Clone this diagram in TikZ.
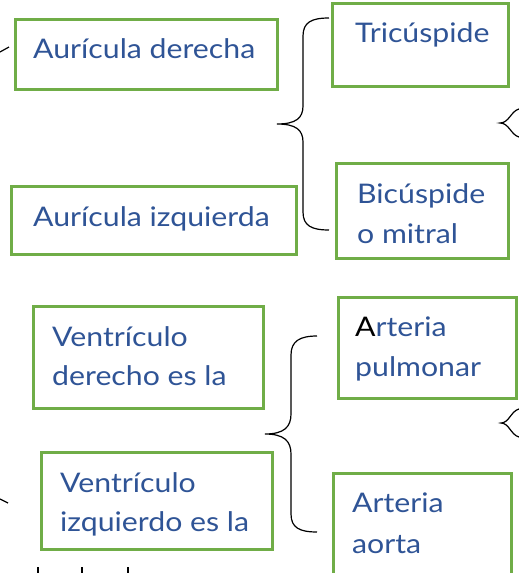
\documentclass[tikz,border=0pt]{standalone}
\usepackage{fontspec}
\setmainfont{Lato}[FakeStretch=1.12]
\definecolor{boxgreen}{HTML}{70AD47}
\definecolor{txtblue}{HTML}{2F5496}
\begin{document}
\begin{tikzpicture}[x=1pt,y=-1pt,
  box/.style={draw=boxgreen,line width=2.6pt,anchor=north west,inner sep=0pt},
  lbl/.style={anchor=base west,inner sep=0pt,text=txtblue,font=\fontsize{27}{32}\selectfont},
  brace/.style={draw=black,line width=1.2pt}]
\useasboundingbox[fill=white] (0,0) rectangle (519,573);
% boxes
\node[box,minimum width=262pt,minimum height=70pt] (b1) at (14,18) {};
\node[box,minimum width=176pt,minimum height=83pt] (b2) at (331,2) {};
\node[box,minimum width=285pt,minimum height=68pt] (b3) at (10,185) {};
\node[box,minimum width=172pt,minimum height=95pt] (b4) at (335,162) {};
\node[box,minimum width=230pt,minimum height=102pt] (b5) at (32,305) {};
\node[box,minimum width=178pt,minimum height=101pt] (b6) at (337,296) {};
\node[box,minimum width=231pt,minimum height=97pt] (b7) at (40,451) {};
\node[box,minimum width=178pt,minimum height=110pt] (b8) at (332,472) {};
% texts
\node[lbl] (t1) at (33,58) {Aurícula derecha};
\node[lbl] (t2) at (355,42) {Tricúspide};
\node[lbl] (t3) at (33,226) {Aurícula izquierda};
\node[lbl] (t4a) at (357,203) {Bicúspide};
\node[lbl] (t4b) at (357,243) {o mitral};
\node[lbl] (t5a) at (52,346) {Ventrículo};
\node[lbl] (t5b) at (52,385) {derecho es la};
\node[lbl] (t6a) at (355,336) {\textcolor{black}{A}rteria};
\node[lbl] (t6b) at (355,376) {pulmonar};
\node[lbl] (t7a) at (60,492) {Ventrículo};
\node[lbl] (t7b) at (60,531) {izquierdo es la};
\node[lbl] (t8a) at (352,512) {Arteria};
\node[lbl] (t8b) at (352,553) {aorta};
% braces
\coordinate (br1top) at (329,18);
\coordinate (br1tip) at (277,124);
\coordinate (br1bot) at (329,230);
\draw[brace] (br1top) .. controls (312,18) and (303,22) .. (303,36) -- (303,106)
  .. controls (303,118) and (296,124) .. (br1tip)
  .. controls (296,124) and (303,130) .. (303,142) -- (303,212)
  .. controls (303,226) and (312,230) .. (br1bot);
\coordinate (br2top) at (317,336);
\coordinate (br2tip) at (265,434);
\coordinate (br2bot) at (317,532);
\draw[brace] (br2top) .. controls (300,336) and (291,341) .. (291,355) -- (291,414)
  .. controls (291,427) and (284,434) .. (br2tip)
  .. controls (284,434) and (291,441) .. (291,454) -- (291,514)
  .. controls (291,528) and (300,532) .. (br2bot);
% cut-off fragments
\draw[brace] (0,52) .. controls (4,50) .. (9,47);
\draw[brace] (0,499) .. controls (4,501) .. (8,503);
\draw[brace] (519,109) .. controls (511,111) and (509,123) .. (500,123)
  .. controls (509,123) and (511,135) .. (519,137);
\draw[brace] (519,409) .. controls (511,411) and (509,423) .. (501,423)
  .. controls (509,423) and (511,435) .. (519,437);
\foreach \xx in {38,82,128} \draw[line width=2pt] (\xx,567) -- (\xx,573);
\end{tikzpicture}
\end{document}
